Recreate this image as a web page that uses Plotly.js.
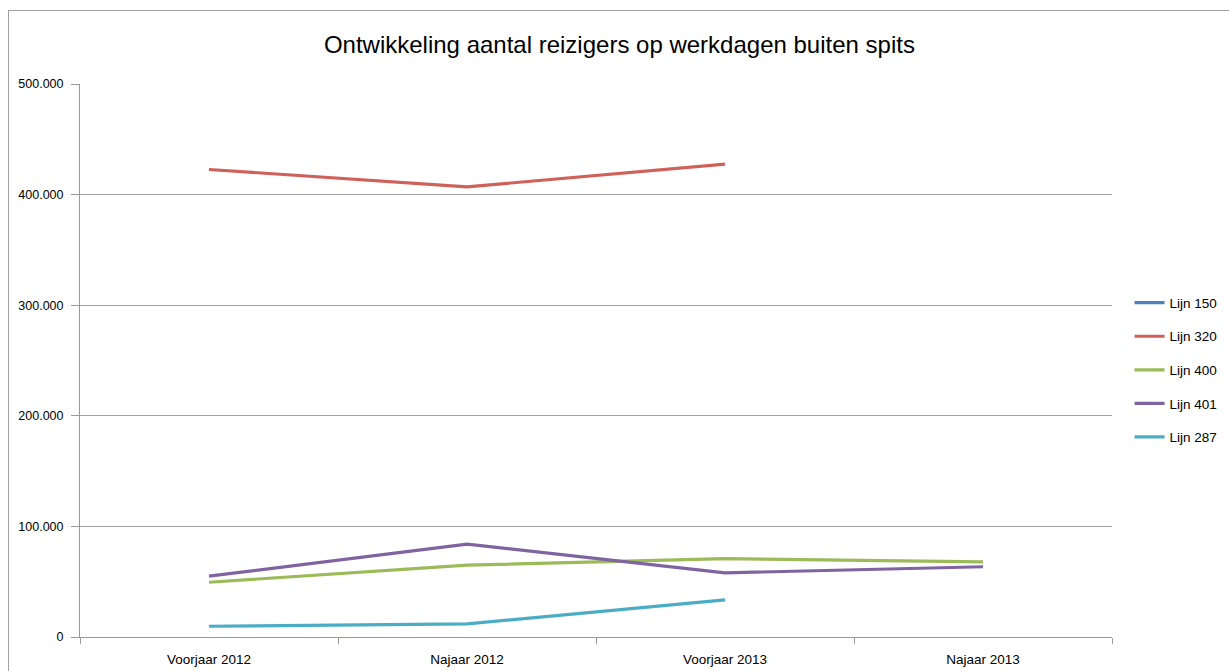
<!DOCTYPE html>
<html>
<head>
<meta charset="utf-8">
<script src="https://cdn.plot.ly/plotly-3.0.1.min.js"></script>
<style>
  html, body { margin: 0; padding: 0; background: #fff; overflow: hidden; }
  #frame { position: absolute; left: 8px; top: 10px; width: 1400px; height: 800px; border: 1px solid #a0a0a0; }
  #chart { position: absolute; left: 0; top: 0; width: 1229px; height: 671px; }
</style>
</head>
<body>
<div id="frame"></div>
<div id="chart"></div>
<script>
const categories = ["Voorjaar 2012", "Najaar 2012", "Voorjaar 2013", "Najaar 2013"];
const seriesNames = ["Lijn 150", "Lijn 320", "Lijn 400", "Lijn 401", "Lijn 287"];
const lijn150 = [null, null, null, null];
const lijn320 = [422700, 407000, 427500, null];
const lijn400 = [49500, 65000, 70800, 68000];
const lijn401 = [55000, 84000, 58000, 63500];
const lijn287 = [9700, 11800, 33500, null];
const yTicks = [0, 100000, 200000, 300000, 400000, 500000];

const colors = ["#4F81BD", "#D0605A", "#9BBB59", "#8064A2", "#4BACC6"];
const allSeries = [lijn150, lijn320, lijn400, lijn401, lijn287];

const traces = allSeries.map((vals, i) => ({
  type: "scatter",
  mode: "lines",
  name: seriesNames[i],
  legendgroup: "g" + i,
  x: categories,
  y: vals,
  line: { color: colors[i], width: 3.2 },
  connectgaps: false,
  hoverinfo: "x+y+name"
}));

const font = "Liberation Sans, Arial, sans-serif";

const layout = {
  width: 1229,
  height: 671,
  paper_bgcolor: "rgba(0,0,0,0)",
  plot_bgcolor: "rgba(0,0,0,0)",
  separators: ",.",
  margin: { l: 80, r: 117, t: 84, b: 34, pad: 0, autoexpand: false },
  title: {
    text: "Ontwikkeling aantal reizigers op werkdagen buiten spits",
    font: { family: font, size: 24, color: "#000" },
    x: 0.504, xanchor: "center",
    y: 0.933, yanchor: "middle"
  },
  showlegend: true,
  legend: {
    x: 1.017, xanchor: "left",
    y: 0.483, yanchor: "middle",
    font: { family: font, size: 13.5, color: "#000" },
    itemwidth: 30,
    tracegroupgap: 13,
    bgcolor: "rgba(0,0,0,0)"
  },
  xaxis: {
    type: "category",
    categoryarray: categories,
    range: [-0.5, 3.5],
    showgrid: false,
    showline: true,
    linecolor: "#999",
    linewidth: 1,
    ticks: "outside",
    tickson: "boundaries",
    ticklen: 6,
    tickcolor: "#999",
    ticklabelstandoff: 10,
    tickfont: { family: font, size: 13.5, color: "#000" },
    zeroline: false,
    fixedrange: true
  },
  yaxis: {
    range: [0, 500000],
    tickvals: yTicks,
    tickformat: ",d",
    showgrid: true,
    gridcolor: "#a0a0a0",
    gridwidth: 1,
    showline: true,
    linecolor: "#999",
    linewidth: 1,
    ticks: "outside",
    ticklen: 8,
    tickcolor: "#999",
    ticklabelstandoff: 5,
    tickfont: { family: font, size: 12.5, color: "#000" },
    zeroline: false,
    fixedrange: true
  }
};

Plotly.newPlot("chart", traces, layout, { displayModeBar: false, staticPlot: true });
</script>
</body>
</html>
